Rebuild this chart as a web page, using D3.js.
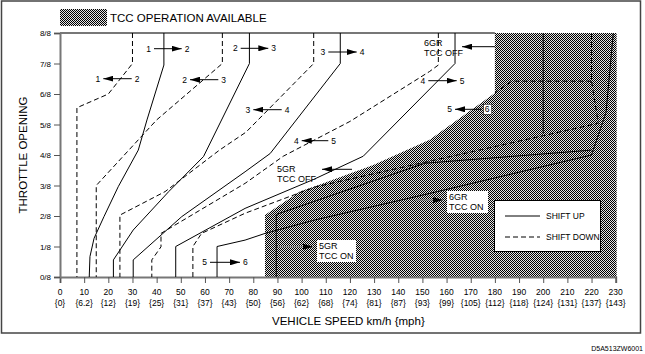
<!DOCTYPE html>
<html>
<head>
<meta charset="utf-8">
<script src="https://cdn.jsdelivr.net/npm/d3@7"></script>
<style>
  body { margin: 0; background: #fff; }
  text { font-family: "Liberation Sans", Arial, sans-serif; fill: #000; }
</style>
</head>
<body>
<svg id="chart" width="645" height="354"></svg>
<script>
// shift pattern data: [km/h, throttle eighths]
var speedTicks = [0,10,20,30,40,50,60,70,80,90,100,110,120,130,140,150,160,170,180,190,200,210,220,230];
var mphTicks = ["0","6.2","12","19","25","31","37","43","50","56","62","68","74","81","87","93","99","105","112","118","124","131","137","143"];
var throttleTicks = ["0/8","1/8","2/8","3/8","4/8","5/8","6/8","7/8","8/8"];

// shift up (solid)
var up12 = [[43,8],[43,6.95],[36,5.15],[32.4,4.16],[24.1,2.96],[18.2,1.98],[14.1,1.27],[12.4,0.67],[12.1,0]];
var up23 = [[78.4,8],[78.4,7],[59.4,3.95],[45,2.8],[30.3,1.54],[22.1,0.56],[22.1,0]];
var up34 = [[116,8],[116,7],[87,4.05],[76.6,3.45],[50.4,1.98],[30.3,0.56],[30.3,0]];
var up45 = [[163.5,8],[163.5,7],[125.5,3.96],[105,3.2],[76.6,2.25],[47.9,1.0],[47.9,0]];
var up56 = [[65,0],[65,1],[76.6,1.21],[84.9,1.43],[105.5,1.87],[153,2.74],[220,4.0],[226,5.4],[229,8]];
var tccOn5 = [[89.5,0],[89.5,2.05],[151,3.73],[220,4.16]];
var tccOn6 = [[200,8],[200,4.7]];

// shift down (dashed)
var dn12 = [[30,8],[30,7],[20,6],[7,5.55],[7,0]];
var dn23 = [[67.2,8],[67.2,7],[40,5.15],[15,3.0],[15,0]];
var dn34 = [[105,8],[105,7],[77,4.75],[66,4.16],[43.5,2.8],[24.8,2.03],[24.8,0]];
var dn45 = [[156.6,8],[156.6,6.95],[153,6.74],[120,5.1],[92.4,3.96],[76.6,3.07],[41.8,1.43],[41.8,0.99],[38,0.56],[38,0]];
var dn56 = [[55,0],[55,1],[58.6,1.43],[76.6,2.09],[105.5,2.95],[222.8,5.04],[220,6.42],[220,8]];
var tccOff6 = [[220,6.42],[187,6.42],[180,6.03]];

// TCC operation area
var tccArea = [[84.85,0],[84.85,2.03],[99.3,2.8],[109,3.07],[129.7,3.67],[153,4.5],[180,6.03],[180,8],[230.4,8],[230.4,0]];

// arrow annotations: [from, to, throttle, left label, right label]
var shiftArrows = [
  [154,181.7,48.7,"1","2"],[240.7,268.3,48.3,"2","3"],[328.3,356.7,52,"3","4"],[428.3,456.7,80.7,"4","5"],[210,240,262.3,"5","6"],
  [131.7,103.3,78.7,"1","2"],[218.3,190,79.7,"2","3"],[281.7,253.3,109.7,"3","4"],[328.3,301.7,140.7,"4","5"],[481.7,455,109.3,"5","6"]
];

var svg = d3.select("#chart");
var x = d3.scaleLinear().domain([0,230]).range([60,615.7]);
var y = d3.scaleLinear().domain([0,8]).range([277,33]);

// hatch pattern
var defs = svg.append("defs");
var pat = defs.append("pattern").attr("id","hatch").attr("patternUnits","userSpaceOnUse")
  .attr("width",2).attr("height",2).attr("shape-rendering","crispEdges");
pat.append("rect").attr("width",2).attr("height",2).attr("fill","#e4e4e4");
pat.append("rect").attr("x",0).attr("y",0).attr("width",1).attr("height",1).attr("fill","#000");
pat.append("rect").attr("x",1).attr("y",1).attr("width",1).attr("height",1).attr("fill","#000");

// outer frame
svg.append("rect").attr("x",1.5).attr("y",1).attr("width",639).attr("height",332)
  .attr("fill","none").attr("stroke","#444").attr("stroke-width",1.5);

// header legend
svg.append("rect").attr("x",60).attr("y",9).attr("width",47).attr("height",17).attr("fill","url(#hatch)");
svg.append("text").attr("x",110).attr("y",22).attr("font-size",11.5).text("TCC OPERATION AVAILABLE");

// TCC area
var line = d3.line().x(function(d){ return x(d[0]); }).y(function(d){ return y(d[1]); });
svg.append("path").attr("d", line(tccArea) + "Z").attr("fill","url(#hatch)");

// axes
svg.append("g").attr("transform","translate(0,277)")
  .call(d3.axisBottom(x).tickValues(speedTicks).tickSize(6).tickFormat(""))
  .call(function(g){ g.select(".domain").attr("stroke","#777").attr("stroke-width",2); g.selectAll(".tick line").attr("stroke","#555"); });
svg.append("g").attr("transform","translate(60,0)")
  .call(d3.axisLeft(y).ticks(8).tickSize(6).tickFormat(""))
  .call(function(g){ g.select(".domain").attr("stroke","#777").attr("stroke-width",2); g.selectAll(".tick line").attr("stroke","#555"); });
svg.append("line").attr("x1",60).attr("x2",x(180)).attr("y1",33).attr("y2",33).attr("stroke","#777").attr("stroke-width",2);

svg.selectAll(".xl").data(speedTicks).enter().append("text")
  .attr("x",function(d){ return x(d); }).attr("y",295).attr("text-anchor","middle").attr("font-size",8.5)
  .text(function(d){ return d; });
svg.selectAll(".ml").data(mphTicks).enter().append("text")
  .attr("x",function(d,i){ return x(speedTicks[i]); }).attr("y",306).attr("text-anchor","middle").attr("font-size",8.5)
  .text(function(d){ return "{" + d + "}"; });
svg.selectAll(".yl").data(throttleTicks).enter().append("text")
  .attr("x",51).attr("y",function(d,i){ return y(i) + 3; }).attr("text-anchor","end").attr("font-size",8)
  .text(function(d){ return d; });

svg.append("text").attr("x",272).attr("y",325).attr("font-size",11.5).text("VEHICLE SPEED  km/h {mph}");
svg.append("text").attr("transform","translate(27,155) rotate(-90)").attr("text-anchor","middle")
  .attr("font-size",11.5).text("THROTTLE OPENING");
svg.append("text").attr("x",643).attr("y",351).attr("text-anchor","end").attr("font-size",7).text("D5A513ZW6001");

// shift lines
[up12,up23,up34,up45,up56,tccOn5,tccOn6].forEach(function(s){
  svg.append("path").attr("d",line(s)).attr("fill","none").attr("stroke","#000").attr("stroke-width",1);
});
[dn12,dn23,dn34,dn45,dn56,tccOff6].forEach(function(s){
  svg.append("path").attr("d",line(s)).attr("fill","none").attr("stroke","#000").attr("stroke-width",1)
    .attr("stroke-dasharray","5,3");
});

// arrows
defs.append("marker").attr("id","ah").attr("viewBox","0 0 10 6").attr("refX",10).attr("refY",3)
  .attr("markerWidth",10).attr("markerHeight",6).attr("markerUnits","userSpaceOnUse").attr("orient","auto")
  .append("path").attr("d","M0,0L10,3L0,6Z").attr("fill","#000");

function arrow(x1,x2,yy,color){
  svg.append("line").attr("x1",x1).attr("x2",x2).attr("y1",yy).attr("y2",yy)
    .attr("stroke",color||"#000").attr("stroke-width",1).attr("marker-end","url(#ah)");
}
shiftArrows.forEach(function(a){
  arrow(a[0],a[1],a[2]);
  var lo = Math.min(a[0],a[1]), hi = Math.max(a[0],a[1]);
  if (a[4] === "6" && a[0] > a[1]) {
    svg.append("rect").attr("x",hi+2).attr("y",a[2]-5).attr("width",8).attr("height",10).attr("fill","#fff").attr("stroke","#000").attr("stroke-width",0.5);
  }
  svg.append("text").attr("x",lo-3).attr("y",a[2]+3).attr("text-anchor","end").attr("font-size",8.5).text(a[3]);
  svg.append("text").attr("x",hi+3).attr("y",a[2]+3).attr("font-size",8.5).text(a[4]);
});

// TCC labels
function tccLabel(lx,ly,l1,l2,box){
  if (box) svg.append("rect").attr("x",lx-2).attr("y",ly-9).attr("width",box).attr("height",22).attr("fill","#fff");
  svg.append("text").attr("x",lx).attr("y",ly).attr("font-size",9).text(l1);
  svg.append("text").attr("x",lx).attr("y",ly+10).attr("font-size",9).text(l2);
}
tccLabel(424,46,"6GR","TCC OFF",0);
arrow(495,462,46.7);
tccLabel(277,172,"5GR","TCC OFF",0);
arrow(352,322,169.3);
tccLabel(449,200,"6GR","TCC ON",41);
arrow(415,443,200,"#888");
tccLabel(319,249,"5GR","TCC ON",39);
arrow(277,313,246.7,"#888");

// legend
svg.append("rect").attr("x",494.5).attr("y",200.5).attr("width",106).attr("height",51).attr("fill","#fff").attr("stroke","#000").attr("stroke-width",1);
svg.append("line").attr("x1",505).attr("x2",540).attr("y1",216).attr("y2",216).attr("stroke","#000");
svg.append("line").attr("x1",505).attr("x2",540).attr("y1",237).attr("y2",237).attr("stroke","#000").attr("stroke-dasharray","5,3");
svg.append("text").attr("x",546).attr("y",219).attr("font-size",8.5).text("SHIFT UP");
svg.append("text").attr("x",546).attr("y",240).attr("font-size",8.5).text("SHIFT DOWN");
</script>
</body>
</html>
